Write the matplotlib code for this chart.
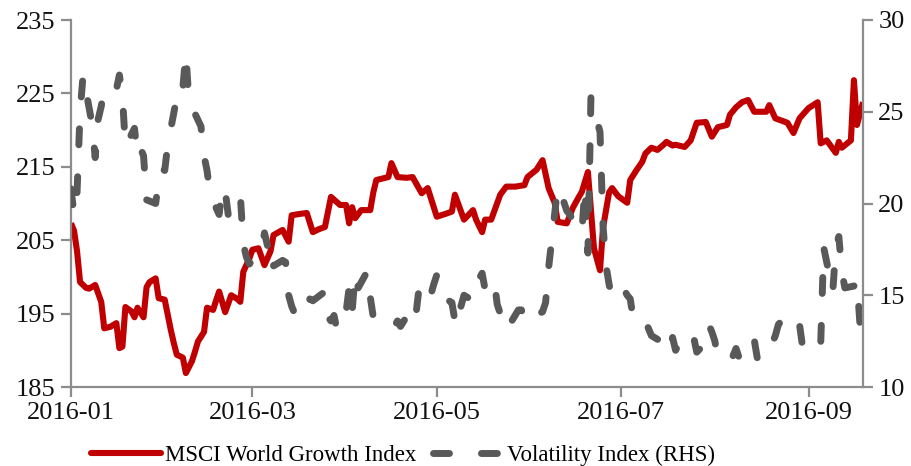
import matplotlib
matplotlib.use("Agg")
import matplotlib.pyplot as plt
import matplotlib.dates as mdates
from matplotlib.lines import Line2D
import pandas as pd

plt.rcParams["font.family"] = ["Liberation Serif", "DejaVu Serif"]

red_dates = [
    "2016-01-01", "2016-01-02", "2016-01-03", "2016-01-04", "2016-01-06", "2016-01-07",
    "2016-01-09", "2016-01-11", "2016-01-12", "2016-01-14", "2016-01-16", "2016-01-17",
    "2016-01-18", "2016-01-19", "2016-01-21", "2016-01-22", "2016-01-23", "2016-01-25",
    "2016-01-26", "2016-01-27", "2016-01-29", "2016-01-30", "2016-02-01", "2016-02-03",
    "2016-02-04", "2016-02-05", "2016-02-07", "2016-02-08", "2016-02-10", "2016-02-11",
    "2016-02-12", "2016-02-14", "2016-02-15", "2016-02-17", "2016-02-18", "2016-02-19",
    "2016-02-21", "2016-02-23", "2016-02-25", "2016-02-26", "2016-02-27", "2016-02-29",
    "2016-03-01", "2016-03-03", "2016-03-05", "2016-03-07", "2016-03-08", "2016-03-11",
    "2016-03-13", "2016-03-14", "2016-03-17", "2016-03-19", "2016-03-21", "2016-03-23",
    "2016-03-25", "2016-03-27", "2016-03-30", "2016-04-01", "2016-04-02", "2016-04-03",
    "2016-04-04", "2016-04-06", "2016-04-09", "2016-04-10", "2016-04-11", "2016-04-15",
    "2016-04-16", "2016-04-18", "2016-04-21", "2016-04-23", "2016-04-26", "2016-04-28",
    "2016-05-01", "2016-05-04", "2016-05-06", "2016-05-07", "2016-05-10", "2016-05-13",
    "2016-05-14", "2016-05-16", "2016-05-17", "2016-05-19", "2016-05-22", "2016-05-24",
    "2016-05-27", "2016-05-30", "2016-05-31", "2016-06-03", "2016-06-05", "2016-06-07",
    "2016-06-09", "2016-06-10", "2016-06-13", "2016-06-15", "2016-06-17", "2016-06-18",
    "2016-06-20", "2016-06-22", "2016-06-24", "2016-06-25", "2016-06-27", "2016-06-28",
    "2016-06-30", "2016-07-03", "2016-07-04", "2016-07-06", "2016-07-08", "2016-07-09",
    "2016-07-11", "2016-07-13", "2016-07-15", "2016-07-16", "2016-07-18", "2016-07-19",
    "2016-07-22", "2016-07-24", "2016-07-26", "2016-07-29", "2016-07-31", "2016-08-02",
    "2016-08-05", "2016-08-06", "2016-08-08", "2016-08-10", "2016-08-12", "2016-08-14",
    "2016-08-15", "2016-08-18", "2016-08-19", "2016-08-21", "2016-08-25", "2016-08-27",
    "2016-08-29", "2016-09-01", "2016-09-04", "2016-09-05", "2016-09-07", "2016-09-10",
    "2016-09-11", "2016-09-12", "2016-09-15", "2016-09-16", "2016-09-17", "2016-09-19",
]
red_values = [
    207.3, 206.3, 203.5, 199.3, 198.5, 198.4,
    198.9, 196.6, 193.0, 193.2, 193.7, 190.3,
    190.5, 195.9, 195.3, 194.5, 195.8, 194.5,
    198.6, 199.3, 199.8, 197.1, 196.9, 192.8,
    191.0, 189.4, 189.0, 186.9, 188.5, 189.8,
    191.2, 192.5, 195.8, 195.5, 196.8, 198.0,
    195.2, 197.5, 197.0, 196.6, 200.7, 202.5,
    203.7, 203.9, 201.6, 203.5, 205.7, 206.4,
    204.8, 208.4, 208.6, 208.7, 206.1, 206.5,
    206.8, 210.9, 209.8, 209.8, 207.3, 209.5,
    208.0, 209.1, 209.1, 211.5, 213.2, 213.6,
    215.5, 213.6, 213.5, 213.6, 211.4, 212.1,
    208.2, 208.6, 208.9, 211.2, 207.8, 209.1,
    207.8, 206.1, 207.8, 207.8, 211.2, 212.3,
    212.3, 212.5, 213.6, 214.6, 215.9, 212.1,
    210.1, 207.5, 207.3, 209.4, 210.9, 211.6,
    214.3, 203.9, 200.9, 206.7, 211.5, 212.1,
    211.0, 210.1, 213.2, 214.5, 215.7, 216.8,
    217.6, 217.3, 218.0, 218.4, 217.9, 218.0,
    217.7, 218.6, 221.0, 221.1, 219.1, 220.4,
    220.7, 222.1, 223.1, 223.8, 224.1, 222.5,
    222.5, 222.5, 223.4, 221.6, 221.0, 219.6,
    221.6, 223.0, 223.8, 218.2, 218.6, 216.9,
    218.4, 217.6, 218.6, 226.8, 220.7, 223.8,
]

vix_dates = [
    "2016-01-01", "2016-01-02", "2016-01-03", "2016-01-04", "2016-01-05", "2016-01-08",
    "2016-01-09", "2016-01-10", "2016-01-11", "2016-01-12", "2016-01-16", "2016-01-17",
    "2016-01-18", "2016-01-19", "2016-01-22", "2016-01-23", "2016-01-24", "2016-01-25",
    "2016-01-26", "2016-01-29", "2016-01-30", "2016-01-31", "2016-02-01", "2016-02-02",
    "2016-02-05", "2016-02-06", "2016-02-07", "2016-02-08", "2016-02-09", "2016-02-13",
    "2016-02-14", "2016-02-15", "2016-02-16", "2016-02-19", "2016-02-20", "2016-02-21",
    "2016-02-22", "2016-02-23", "2016-02-26", "2016-02-27", "2016-02-28", "2016-02-29",
    "2016-03-01", "2016-03-04", "2016-03-05", "2016-03-06", "2016-03-07", "2016-03-08",
    "2016-03-11", "2016-03-12", "2016-03-13", "2016-03-14", "2016-03-15", "2016-03-18",
    "2016-03-19", "2016-03-20", "2016-03-21", "2016-03-25", "2016-03-26", "2016-03-27",
    "2016-03-28", "2016-03-29", "2016-04-01", "2016-04-02", "2016-04-03", "2016-04-04",
    "2016-04-05", "2016-04-08", "2016-04-09", "2016-04-10", "2016-04-11", "2016-04-12",
    "2016-04-15", "2016-04-16", "2016-04-17", "2016-04-18", "2016-04-19", "2016-04-22",
    "2016-04-23", "2016-04-24", "2016-04-25", "2016-04-26", "2016-04-29", "2016-04-30",
    "2016-05-01", "2016-05-02", "2016-05-03", "2016-05-06", "2016-05-07", "2016-05-08",
    "2016-05-09", "2016-05-10", "2016-05-13", "2016-05-14", "2016-05-15", "2016-05-16",
    "2016-05-17", "2016-05-20", "2016-05-21", "2016-05-22", "2016-05-23", "2016-05-24",
    "2016-05-28", "2016-05-29", "2016-05-30", "2016-05-31", "2016-06-03", "2016-06-04",
    "2016-06-05", "2016-06-06", "2016-06-07", "2016-06-10", "2016-06-11", "2016-06-12",
    "2016-06-13", "2016-06-14", "2016-06-17", "2016-06-18", "2016-06-19", "2016-06-20",
    "2016-06-21", "2016-06-24", "2016-06-25", "2016-06-26", "2016-06-27", "2016-06-28",
    "2016-07-02", "2016-07-03", "2016-07-04", "2016-07-05", "2016-07-08", "2016-07-09",
    "2016-07-10", "2016-07-11", "2016-07-12", "2016-07-15", "2016-07-16", "2016-07-17",
    "2016-07-18", "2016-07-19", "2016-07-22", "2016-07-23", "2016-07-24", "2016-07-25",
    "2016-07-26", "2016-07-29", "2016-07-30", "2016-07-31", "2016-08-01", "2016-08-02",
    "2016-08-05", "2016-08-06", "2016-08-07", "2016-08-08", "2016-08-09", "2016-08-12",
    "2016-08-13", "2016-08-14", "2016-08-15", "2016-08-16", "2016-08-19", "2016-08-20",
    "2016-08-21", "2016-08-22", "2016-08-23", "2016-08-26", "2016-08-27", "2016-08-28",
    "2016-08-29", "2016-08-30", "2016-09-03", "2016-09-04", "2016-09-05", "2016-09-06",
    "2016-09-09", "2016-09-10", "2016-09-11", "2016-09-12", "2016-09-13", "2016-09-16",
    "2016-09-17", "2016-09-18", "2016-09-19",
]
vix_values = [
    20.8, 19.4, 20.6, 25.0, 27.0, 24.3,
    22.5, 24.6, 25.3, 26.3, 26.2, 27.0,
    25.9, 23.1, 24.1, 22.6, 23.0, 22.6,
    20.2, 20.0, 21.2, 21.9, 21.8, 23.2,
    25.8, 26.5, 26.3, 28.2, 25.6, 24.2,
    22.6, 21.8, 20.5, 19.4, 20.9, 20.7,
    19.4, 19.8, 20.5, 17.8, 17.1, 16.7,
    16.9, 17.4, 18.4, 17.7, 18.0, 16.6,
    16.9, 16.8, 15.0, 14.4, 14.0, 13.8,
    14.2, 14.8, 14.7, 15.2, 13.8, 13.6,
    13.9, 13.1, 14.1, 15.4, 14.1, 16.2,
    15.4, 16.3, 14.9, 13.8, 13.7, 13.6,
    13.4, 13.2, 13.3, 13.6, 13.3, 14.1,
    14.3, 13.8, 15.2, 15.7, 15.0, 15.6,
    16.1, 15.9, 14.9, 14.6, 13.6, 14.7,
    14.4, 15.0, 14.7, 15.4, 15.9, 16.2,
    15.3, 15.8, 14.5, 14.0, 13.5, 13.1,
    14.2, 14.2, 13.7, 13.5, 13.7, 14.0,
    14.1, 14.6, 16.5, 20.9, 20.6, 20.1,
    19.6, 19.4, 18.5, 18.4, 20.9, 17.3,
    25.8, 23.9, 18.8, 16.6, 15.6, 14.8,
    15.3, 15.0, 14.8, 13.7, 13.5, 13.6,
    13.2, 12.8, 12.7, 12.4, 12.2, 11.9,
    12.7, 12.0, 12.9, 13.0, 12.9, 12.7,
    11.9, 12.4, 13.4, 13.0, 12.5, 11.5,
    11.5, 11.6, 11.7, 12.1, 11.6, 11.8,
    12.6, 12.6, 11.6, 11.4, 12.2, 12.4,
    12.8, 13.4, 13.6, 13.0, 13.1, 13.4,
    13.4, 12.2, 12.0, 11.9, 12.3, 17.6,
    15.2, 17.6, 18.2, 16.3, 15.4, 15.5,
    15.8, 13.4, 12.5,
]

left_ticks = [185, 195, 205, 215, 225, 235]
right_ticks = [10, 15, 20, 25, 30]
series_names = ["MSCI World Growth Index", "Volatility Index (RHS)"]

RED = "#C00000"
GREY = "#595959"
AXC = "#8c8c8c"
TXT = "#111111"
DASH = (0, (2.3, 4.6))

W, H = 912, 466
fig = plt.figure(figsize=(W / 100, H / 100), dpi=100)
ax = fig.add_axes([71 / W, 1 - 387 / H, (863 - 71) / W, (387 - 20) / H])
ax2 = ax.twinx()

rd = pd.to_datetime(red_dates)
vd = pd.to_datetime(vix_dates)

ax.plot(rd, red_values, color=RED, lw=4.4, solid_joinstyle="round",
        solid_capstyle="butt", label=series_names[0])
ax2.plot(vd, vix_values, color=GREY, lw=5.0, linestyle=DASH,
         dash_capstyle="round", dash_joinstyle="round", label=series_names[1])

ax.set_ylim(185, 235)
ax.set_yticks(left_ticks)
ax2.set_ylim(10, 30)
ax2.set_yticks(right_ticks)
ax.set_xlim(pd.Timestamp("2016-01-01"), pd.Timestamp("2016-09-19"))
ax.xaxis.set_major_locator(mdates.MonthLocator(bymonth=[1, 3, 5, 7, 9]))
ax.xaxis.set_major_formatter(mdates.DateFormatter("%Y-%m"))

for a in (ax, ax2):
    a.spines["top"].set_visible(False)
    for s in a.spines.values():
        s.set_color(AXC)
        s.set_linewidth(1.6)
ax.spines["right"].set_visible(False)
ax2.spines["left"].set_visible(False)
ax2.spines["bottom"].set_visible(False)

TICK_FS = 19
ax.tick_params(axis="both", which="major", direction="out", length=7, width=1.6,
               color=AXC, labelcolor=TXT, labelsize=TICK_FS)
ax.tick_params(axis="x", pad=4)
ax.tick_params(axis="y", pad=4)
ax2.tick_params(axis="y", direction="out", length=7, width=1.6, color=AXC,
                labelcolor=TXT, labelsize=TICK_FS, pad=4)

handles = [
    Line2D([], [], color=RED, lw=4.4, solid_capstyle="round"),
    Line2D([], [], color=GREY, lw=5.0, linestyle=DASH, dash_capstyle="round"),
]
fig.legend(handles, series_names, loc="center", bbox_to_anchor=(403 / W, 1 - 455 / H),
           ncol=2, frameon=False, fontsize=16.5, handlelength=3.05, handletextpad=0.2,
           columnspacing=0.7, borderaxespad=0)

fig.savefig("out.png", dpi=100)
